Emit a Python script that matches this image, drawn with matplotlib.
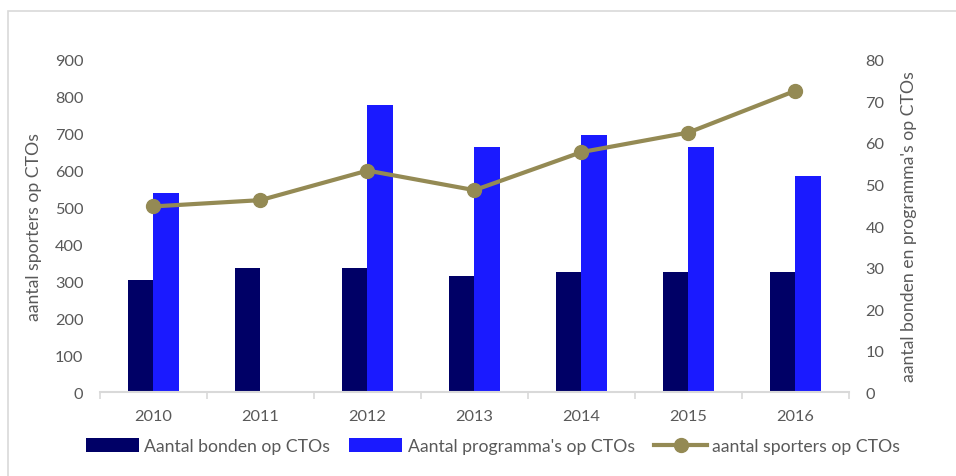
import numpy as np
import matplotlib
matplotlib.use('Agg')
import matplotlib.pyplot as plt
from matplotlib.patches import Rectangle

# data
years = ['2010', '2011', '2012', '2013', '2014', '2015', '2016']
bonden = [27, 30, 30, 28, 29, 29, 29]
programmas = [48, 0, 69, 59, 62, 59, 52]
sporters = [503, 520, 600, 547, 650, 703, 816]

navy = '#000066'
blue = '#1A1AFF'
olive = '#948A54'
grey_txt = '#595959'

plt.rcParams['font.family'] = ['Lato', 'DejaVu Sans']
plt.rcParams['font.size'] = 11.8

fig = plt.figure(figsize=(9.56, 4.77), dpi=100)
ax = fig.add_axes([0.1046, 0.1755, 0.888 - 0.1046, 0.8727 - 0.1755])
ax2 = ax.twinx()

x = np.arange(len(years))
w = 0.24

# bars go on the right axis, line on the left axis, line drawn on top
ax2.bar(x - w / 2, bonden, w, color=navy, label='Aantal bonden op CTOs', zorder=2)
ax2.bar(x + w / 2, programmas, w, color=blue, label="Aantal programma's op CTOs", zorder=2)
ax.plot(x, sporters, color=olive, lw=3, marker='o', ms=10, label='aantal sporters op CTOs', zorder=3)

ax.set_zorder(ax2.get_zorder() + 1)
ax.patch.set_visible(False)

ax.set_xlim(-0.5, len(years) - 0.5)
ax.set_ylim(0, 900)
ax2.set_ylim(0, 80)
ax.set_yticks(range(0, 901, 100))
ax2.set_yticks(range(0, 81, 10))

ax.set_xticks(x)
ax.set_xticklabels(years)
ax.set_xticks(np.arange(-0.5, len(years), 1), minor=True)
ax.tick_params(axis='x', which='major', length=0, pad=12, colors=grey_txt)
ax.tick_params(axis='x', which='minor', length=5, color='#D9D9D9', width=1.2)
ax.tick_params(axis='y', length=0, pad=12, colors=grey_txt)
ax2.tick_params(axis='y', length=0, pad=12, colors=grey_txt)

for a in (ax, ax2):
    for s in ('top', 'left', 'right', 'bottom'):
        a.spines[s].set_visible(False)
ax.spines['bottom'].set_visible(True)
ax.spines['bottom'].set_color('#D9D9D9')
ax.spines['bottom'].set_linewidth(1.5)

ax.set_ylabel('aantal sporters op CTOs', color=grey_txt, labelpad=9, fontsize=12.7)
ax2.set_ylabel("aantal bonden en programma's op CTOs", color=grey_txt, labelpad=12, fontsize=12.7)

h1, l1 = ax2.get_legend_handles_labels()
h2, l2 = ax.get_legend_handles_labels()
leg = fig.legend(h1 + h2, l1 + l2, loc='center', bbox_to_anchor=(493 / 956, 1 - 447 / 477),
                 ncol=3, frameon=False, fontsize=12.7, handlelength=3.0, handleheight=0.8,
                 handletextpad=0.3, columnspacing=1.1, borderaxespad=0)
for t in leg.get_texts():
    t.set_color(grey_txt)

# thin frame around the chart area like the original
fig.patches.append(Rectangle((8 / 956, -0.01), 1.1, 1 - 12 / 477 + 0.01, transform=fig.transFigure,
                             fill=False, edgecolor='#D9D9D9', lw=1.2))

fig.savefig('out.png', dpi=100)
